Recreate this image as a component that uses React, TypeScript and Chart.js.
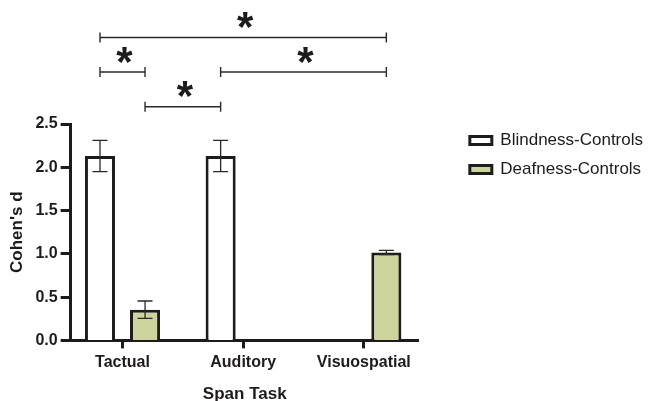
import React, { useEffect, useRef } from "react";
import { Chart, registerables } from "chart.js";

Chart.register(...registerables);

const categories = ["Tactual", "Auditory", "Visuospatial"];
const seriesNames = ["Blindness-Controls", "Deafness-Controls"];
const blindnessD: (number | null)[] = [2.13, 2.13, null];
const blindnessErr: (number | null)[] = [0.18, 0.18, null];
const deafnessD: (number | null)[] = [0.355, null, 1.015];
const deafnessErr: (number | null)[] = [0.1, null, 0.025];
const yTicks = [0, 0.5, 1, 1.5, 2, 2.5];

// significance brackets: from bar (dataset, category) to bar (dataset, category) at a level (in Cohen's d units)
const sigFromDataset = [0, 0, 0, 1];
const sigFromCategory = [0, 0, 1, 0];
const sigToDataset = [1, 1, 1, 0];
const sigToCategory = [2, 0, 2, 1];
const sigLevel = [3.5, 3.1, 3.1, 2.7];
const sigLabel = ["*", "*", "*", "*"];

const FONT = "'Liberation Sans', Arial, Helvetica, sans-serif";
const INK = "#1d1b1c";
const GREEN = "#cdd49b";

const legendWidthPlugin = {
  id: "legendWidth",
  beforeLayout(chart: any) {
    const lg = chart.legend;
    if (lg && !lg.__patched) {
      const orig = lg.update.bind(lg);
      lg.update = (mw: number, mh: number, m: any) => orig(Math.max(mw, 240), mh, m);
      lg.__patched = true;
    }
  },
};

const overlayPlugin = {
  id: "overlay",
  afterDatasetsDraw(chart: any) {
    const ctx = chart.ctx;
    const y = chart.scales.y;
    const vals = [blindnessD, deafnessD];
    const errs = [blindnessErr, deafnessErr];
    ctx.save();
    // error bars
    ctx.strokeStyle = "#2a2a2a";
    ctx.lineWidth = 1.3;
    for (let d = 0; d < 2; d++) {
      const meta = chart.getDatasetMeta(d);
      vals[d].forEach((v, i) => {
        const e = errs[d][i];
        if (v == null || e == null) return;
        const x = meta.data[i].x;
        const top = y.getPixelForValue(v + e);
        const bot = y.getPixelForValue(v - e);
        ctx.beginPath();
        ctx.moveTo(x, top);
        ctx.lineTo(x, bot);
        ctx.moveTo(x - 7.5, top);
        ctx.lineTo(x + 7.5, top);
        ctx.moveTo(x - 7.5, bot);
        ctx.lineTo(x + 7.5, bot);
        ctx.stroke();
      });
    }
    // significance brackets
    ctx.strokeStyle = "#2a2a2a";
    ctx.lineWidth = 1.4;
    ctx.fillStyle = INK;
    ctx.font = `bold 42px ${FONT}`;
    ctx.textAlign = "center";
    ctx.textBaseline = "alphabetic";
    for (let k = 0; k < sigLevel.length; k++) {
      const x1 = chart.getDatasetMeta(sigFromDataset[k]).data[sigFromCategory[k]].x;
      const x2 = chart.getDatasetMeta(sigToDataset[k]).data[sigToCategory[k]].x;
      const yy = y.getPixelForValue(sigLevel[k]);
      ctx.beginPath();
      ctx.moveTo(x1, yy);
      ctx.lineTo(x2, yy);
      ctx.moveTo(x1, yy - 5);
      ctx.lineTo(x1, yy + 5);
      ctx.moveTo(x2, yy - 5);
      ctx.lineTo(x2, yy + 5);
      ctx.stroke();
      const m = ctx.measureText(sigLabel[k]);
      const cy = yy - 17.5;
      const base = cy + (m.actualBoundingBoxAscent - m.actualBoundingBoxDescent) / 2;
      ctx.fillText(sigLabel[k], (x1 + x2) / 2 + 2, base);
    }
    ctx.restore();
  },
};

export default function App() {
  const canvasRef = useRef<HTMLCanvasElement>(null);

  useEffect(() => {
    if (!canvasRef.current) return;
    const chart = new Chart(canvasRef.current, {
      type: "bar",
      data: {
        datasets: [
          {
            label: seriesNames[0],
            data: blindnessD.map((v, i) => ({ x: i, y: v })),
            backgroundColor: "#ffffff",
            borderColor: INK,
            borderWidth: 3,
            categoryPercentage: 0.747,
            barPercentage: 0.667,
          },
          {
            label: seriesNames[1],
            data: deafnessD.map((v, i) => ({ x: i, y: v })),
            backgroundColor: GREEN,
            borderColor: INK,
            borderWidth: 3,
            categoryPercentage: 0.747,
            barPercentage: 0.667,
          },
        ],
      },
      options: {
        animation: false,
        responsive: true,
        maintainAspectRatio: false,
        events: [],
        layout: { padding: { top: 120, left: 2, right: -2, bottom: -4 } },
        plugins: {
          tooltip: { enabled: false },
          legend: {
            position: "right",
            align: "start",
            labels: {
              boxWidth: 22,
              boxHeight: 8,
              padding: 12,
              color: INK,
              font: { family: FONT, size: 17 },
            },
          },
        },
        scales: {
          x: {
            type: "linear",
            min: -0.43,
            max: 2.456,
            offset: false,
            afterBuildTicks: (s: any) => {
              s.ticks = categories.map((_, i) => ({ value: i }));
            },
            grid: {
              display: true,
              offset: false,
              drawOnChartArea: false,
              tickLength: 8,
              tickWidth: 3,
              tickColor: INK,
            },
            border: { display: true, width: 3, color: INK },
            ticks: {
              color: INK,
              padding: 5,
              autoSkip: false,
              maxRotation: 0,
              font: { family: FONT, size: 16, weight: "bold" },
              callback: (v: any) => categories[Math.round(Number(v))] ?? "",
            },
            title: {
              display: true,
              text: "Span Task",
              color: INK,
              padding: { top: 7, bottom: 0 },
              font: { family: FONT, size: 17, weight: "bold" },
            },
          },
          y: {
            min: 0,
            max: 2.5,
            afterBuildTicks: (s: any) => {
              s.ticks = yTicks.map((v) => ({ value: v }));
            },
            grid: {
              display: true,
              drawOnChartArea: false,
              tickLength: 10,
              tickWidth: 3,
              tickColor: INK,
            },
            border: { display: true, width: 3, color: INK },
            ticks: {
              color: INK,
              padding: 3,
              font: { family: FONT, size: 16, weight: "bold", lineHeight: 0.75 },
              callback: (v: any) => Number(v).toFixed(1),
            },
            title: {
              display: true,
              text: "Cohen's d",
              color: INK,
              padding: { top: 5, bottom: 5 },
              font: { family: FONT, size: 17, weight: "bold" },
            },
          },
          spacerRight: {
            type: "linear",
            axis: "y",
            position: "right",
            display: true,
            grid: { display: false, drawTicks: false },
            border: { display: false },
            ticks: { display: false },
            afterFit: (s: any) => {
              s.width = 39;
            },
          },
          spacerTop: {
            type: "linear",
            axis: "x",
            position: "top",
            display: true,
            offset: false,
            grid: { display: false, drawTicks: false, offset: false },
            border: { display: false },
            ticks: { display: false },
            afterFit: (s: any) => {
              s.height = 4;
            },
          },
        },
      },
      plugins: [legendWidthPlugin, overlayPlugin],
    } as any);
    return () => chart.destroy();
  }, []);

  return (
    <div style={{ position: "absolute", left: 0, top: 0, width: 651, height: 401 }}>
      <canvas ref={canvasRef} />
    </div>
  );
}
